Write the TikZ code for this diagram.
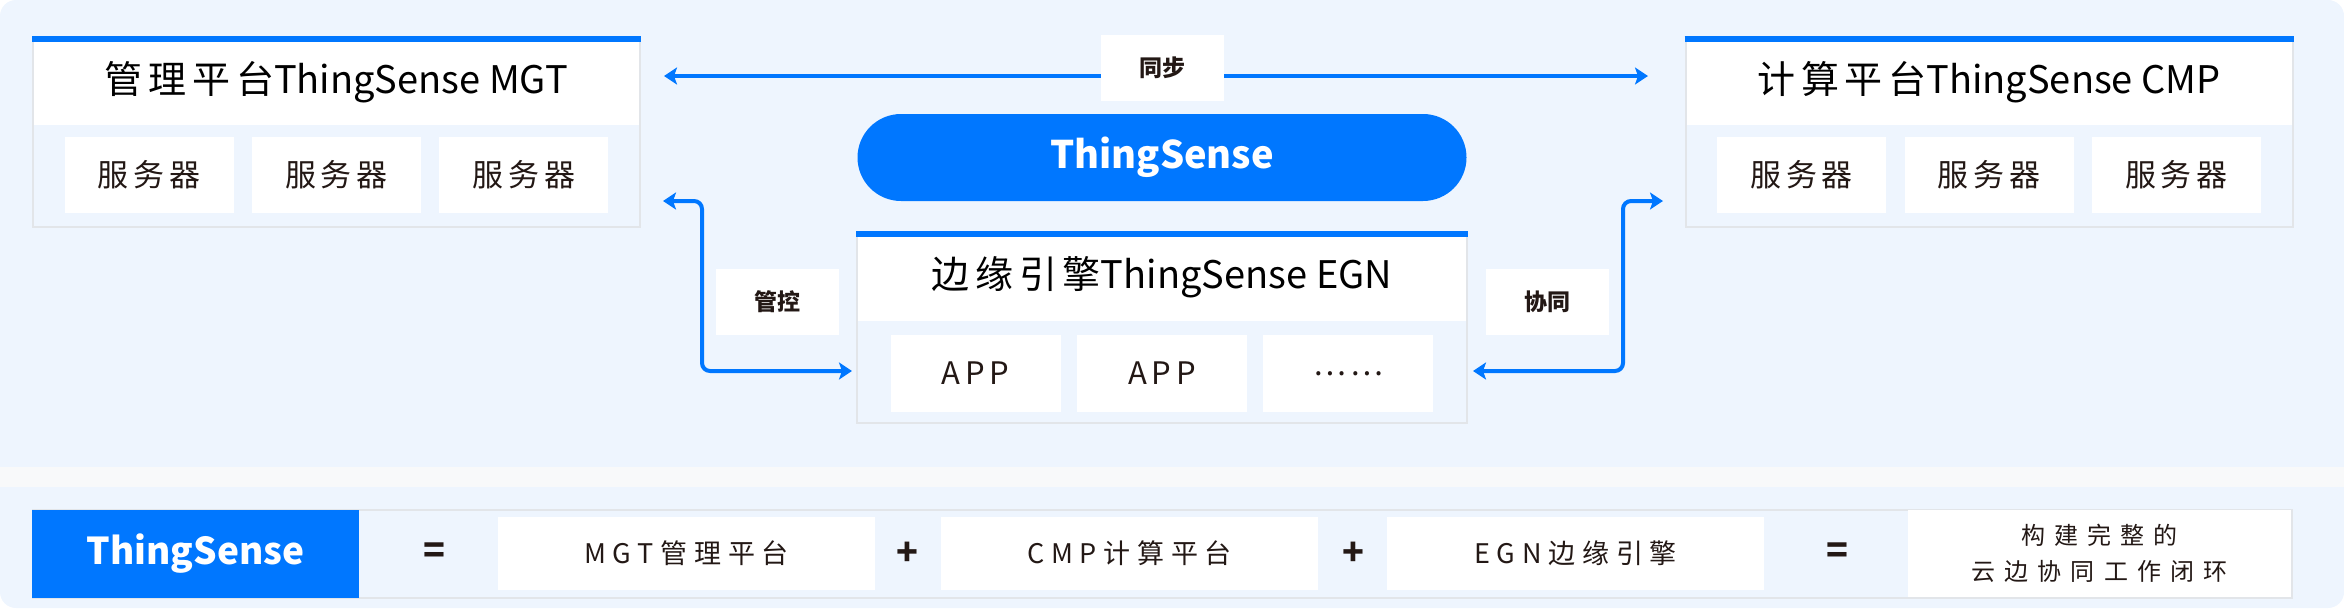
\documentclass[tikz,border=0pt]{standalone}
\usepackage{fontspec}
\setmainfont{Noto Sans CJK SC}
\newfontfamily\spaced[LetterSpace=15]{Noto Sans CJK SC}
\newfontfamily\wide[LetterSpace=25]{Noto Sans CJK SC}
\newfontfamily\wider[LetterSpace=38]{Noto Sans CJK SC}
\usetikzlibrary{positioning, arrows.meta}
\definecolor{tsblue}{RGB}{0,119,255}
\definecolor{bgblue}{RGB}{238,245,254}
\definecolor{gapgray}{RGB}{248,249,250}
\definecolor{rimgray}{RGB}{226,229,233}
\definecolor{ink}{RGB}{35,24,21}
\tikzset{
frame/.style={draw=rimgray, line width=2pt, fill=bgblue, inner sep=0pt}, % outer box of a platform
head/.style={fill=white, inner sep=0pt, font=\fontsize{38}{40}\selectfont, text=black}, % white title strip
topbar/.style={draw=tsblue, line width=6pt}, % blue line on top of a platform
srv/.style={fill=white, inner sep=0pt, minimum width=169pt, minimum height=76pt, text=ink, font=\spaced\fontsize{31}{33}\selectfont}, % small white boxes
lbl/.style={fill=white, inner sep=0pt, minimum width=123pt, minimum height=66pt, text=ink, font=\bfseries\fontsize{23}{25}\selectfont}, % labels on the connectors
conn/.style={draw=tsblue, line width=4pt, rounded corners=8pt, {Stealth[length=13pt,width=17pt,inset=3pt]}-{Stealth[length=13pt,width=17pt,inset=3pt]}}, % blue double arrows
term/.style={fill=white, inner sep=0pt, minimum width=377pt, minimum height=73pt, text=ink, font=\wide\fontsize{27}{29}\selectfont}, % boxes of the bottom line
sym/.style={inner sep=0pt, text=ink, font=\bfseries\fontsize{36}{38}\selectfont}, % = and +
}
\begin{document}
\begin{tikzpicture}[x=1pt, y=-1pt]
    \useasboundingbox (0,0) rectangle (2344,608);
    \fill[bgblue, rounded corners=16pt] (0,0) rectangle (2344,608);
    \fill[gapgray] (0,467) rectangle (2344,487);

    % management platform
    \node[frame, minimum width=607pt, minimum height=187pt] (mgt) at (336.5,133.5) {};
    \node[head, anchor=north, minimum width=605pt, minimum height=86pt] (mgth) at (mgt.north) {{\spaced 管理平台}ThingSense MGT};
    \draw[topbar] (mgt.north west) -- (mgt.north east);
    \node[srv] (m2) at (336.5,175) {服务器};
    \node[srv, left=18pt of m2] (m1) {服务器};
    \node[srv, right=18pt of m2] (m3) {服务器};

    % computing platform
    \node[frame, minimum width=607pt, minimum height=187pt] (cmp) at (1989,133.5) {};
    \node[head, anchor=north, minimum width=605pt, minimum height=86pt] (cmph) at (cmp.north) {{\spaced 计算平台}ThingSense CMP};
    \draw[topbar] (cmp.north west) -- (cmp.north east);
    \node[srv] (c2) at (1989,175) {服务器};
    \node[srv, left=18pt of c2] (c1) {服务器};
    \node[srv, right=18pt of c2] (c3) {服务器};

    % core
    \node[fill=tsblue, rounded corners=43.5pt, minimum width=609pt, minimum height=87pt, inner sep=0pt, text=white, font=\bfseries\fontsize{38}{40}\selectfont] (core) at (1162,157.5) {ThingSense};

    % edge engine
    \node[frame, minimum width=610pt, minimum height=188pt] (egn) at (1162,329) {};
    \node[head, anchor=north, minimum width=608pt, minimum height=87pt] (egnh) at (egn.north) {{\spaced 边缘引擎}ThingSense EGN};
    \draw[topbar] (egn.north west) -- (egn.north east);
    \node[srv, minimum width=170pt, minimum height=77pt] (a2) at (1162,373.5) {APP};
    \node[srv, minimum width=170pt, minimum height=77pt, left=16pt of a2] (a1) {APP};
    \node[srv, minimum width=170pt, minimum height=77pt, right=16pt of a2] (a3) {……};

    % connectors
    \coordinate (syncl) at (664,76);
    \coordinate (syncr) at (1648,76);
    \coordinate (ctrlt) at (663,201);
    \coordinate (ctrlb) at (852,371);
    \coordinate (coopt) at (1663,201);
    \coordinate (coopb) at (1473,371);
    \draw[conn] (syncl) -- (syncr);
    \draw[conn] (ctrlt) -- (702,201) -- (702,371) -- (ctrlb);
    \draw[conn] (coopb) -- (1623,371) -- (1623,201) -- (coopt);
    \node[lbl] (sync) at (1162.5,68) {同步};
    \node[lbl] (ctrl) at (777,302) {管控};
    \node[lbl] (coop) at (1547.5,302) {协同};

    % bottom line
    \node[frame, minimum width=2259pt, minimum height=88pt] (bar) at (1162.5,553.5) {};
    \node[fill=tsblue, anchor=west, inner sep=0pt, minimum width=327pt, minimum height=88pt, text=white, font=\bfseries\fontsize{37}{39}\selectfont] (ts) at (bar.west) {ThingSense};
    \node[sym] (eq1) at (434,553.5) {=};
    \node[term] (t1) at (686.5,553.5) {MGT管理平台};
    \node[sym] (pl1) at (907,553.5) {+};
    \node[term] (t2) at (1129.5,553.5) {CMP计算平台};
    \node[sym] (pl2) at (1353,553.5) {+};
    \node[term] (t3) at (1575.5,553.5) {EGN边缘引擎};
    \node[sym] (eq2) at (1837,553.5) {=};
    \node[term, minimum width=383pt, minimum height=87pt, align=center, font=\wider\fontsize{24}{36}\selectfont] (t4) at (2099.5,553.5) {构建完整的\\云边协同工作闭环};
\end{tikzpicture}
\end{document}
